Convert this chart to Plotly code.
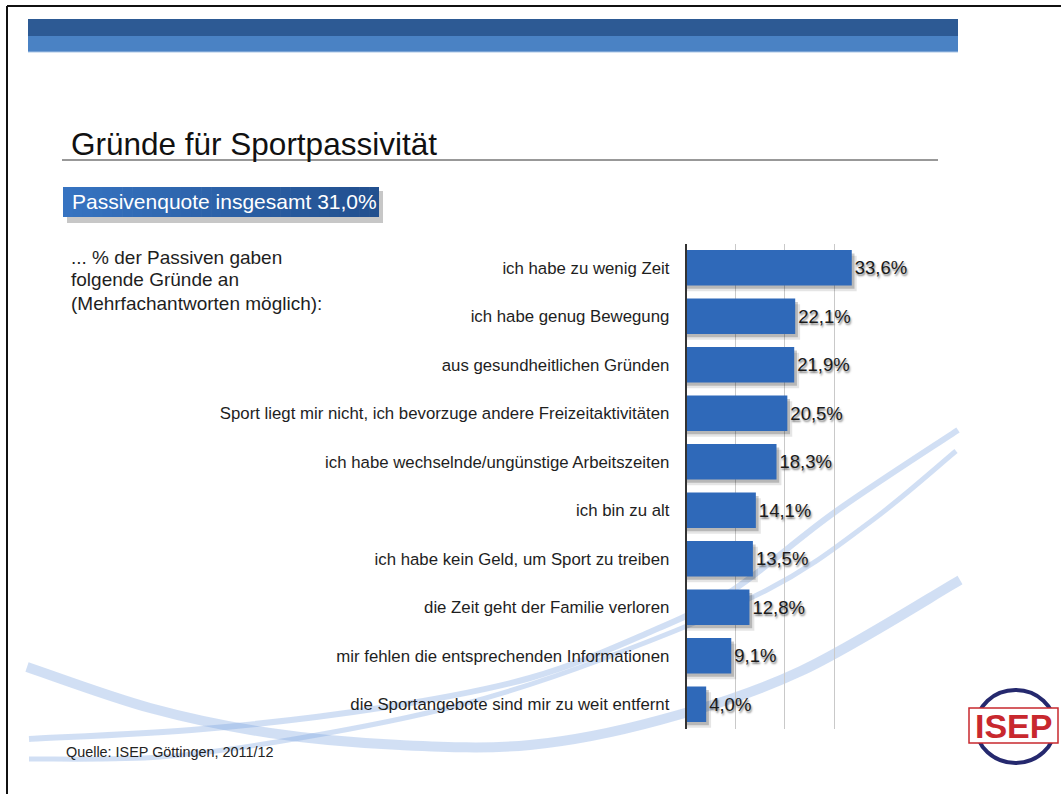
import plotly.graph_objects as go

# ---------------- data ----------------
categories = [
    "ich habe zu wenig Zeit",
    "ich habe genug Bewegung",
    "aus gesundheitlichen Gründen",
    "Sport liegt mir nicht, ich bevorzuge andere Freizeitaktivitäten",
    "ich habe wechselnde/ungünstige Arbeitszeiten",
    "ich bin zu alt",
    "ich habe kein Geld, um Sport zu treiben",
    "die Zeit geht der Familie verloren",
    "mir fehlen die entsprechenden Informationen",
    "die Sportangebote sind mir zu weit entfernt",
]
values = [33.6, 22.1, 21.9, 20.5, 18.3, 14.1, 13.5, 12.8, 9.1, 4.0]
grid_ticks = [0, 10, 20, 30, 40]

title_text = "Gründe für Sportpassivität"
banner_text = "Passivenquote insgesamt 31,0%"
intro_lines = ["... % der Passiven gaben", "folgende Gründe an", "(Mehrfachantworten möglich):"]
source_text = "Quelle: ISEP Göttingen, 2011/12"

# ---------------- geometry helpers ----------------
W, H = 1061, 794
FONT = "Liberation Sans, Arial, Helvetica, sans-serif"


def px(x):
    return x / W


def py(y):
    return 1 - y / H


def smooth_path(points):
    """Catmull-Rom -> cubic bezier path in paper coordinates."""
    pts = [(px(x), py(y)) for x, y in points]
    d = f"M {pts[0][0]:.5f},{pts[0][1]:.5f}"
    n = len(pts)
    for i in range(n - 1):
        p0 = pts[i - 1] if i > 0 else pts[i]
        p1 = pts[i]
        p2 = pts[i + 1]
        p3 = pts[i + 2] if i + 2 < n else pts[i + 1]
        c1 = (p1[0] + (p2[0] - p0[0]) / 6, p1[1] + (p2[1] - p0[1]) / 6)
        c2 = (p2[0] - (p3[0] - p1[0]) / 6, p2[1] - (p3[1] - p1[1]) / 6)
        d += f" C {c1[0]:.5f},{c1[1]:.5f} {c2[0]:.5f},{c2[1]:.5f} {p2[0]:.5f},{p2[1]:.5f}"
    return d


def lerp_col(c1, c2, t):
    a = [int(c1[i:i + 2], 16) for i in (1, 3, 5)]
    b = [int(c2[i:i + 2], 16) for i in (1, 3, 5)]
    return "#" + "".join(f"{round(a[k] + (b[k] - a[k]) * t):02x}" for k in range(3))


BAR_W = 0.73
fig = go.Figure()

# soft shadows behind bars
fig.add_trace(go.Bar(
    y=categories, x=[v + 1.0 for v in values], orientation="h",
    width=BAR_W, offset=-BAR_W / 2 + 0.12,
    marker=dict(color="rgba(0,0,0,0.10)", line=dict(width=0)),
    hoverinfo="skip", showlegend=False,
))
fig.add_trace(go.Bar(
    y=categories, x=[v + 0.55 for v in values], orientation="h",
    width=BAR_W, offset=-BAR_W / 2 + 0.07,
    marker=dict(color="rgba(0,0,0,0.20)", line=dict(width=0)),
    hoverinfo="skip", showlegend=False,
))
# main bars
fig.add_trace(go.Bar(
    y=categories, x=values, orientation="h",
    width=BAR_W, offset=-BAR_W / 2,
    marker=dict(color="#2f69b9", line=dict(width=0)),
    texttemplate="%{x:.1f}%", textposition="outside", constraintext="none",
    cliponaxis=False,
    textfont=dict(family=FONT, size=18.5, color="#1a1a1a",
                  shadow="1px 2px 2px rgba(0,0,0,0.5)"),
    showlegend=False,
))

shapes = []
# frame lines
shapes.append(dict(type="line", xref="paper", yref="paper", x0=px(7), x1=1, y0=py(6), y1=py(6),
                   line=dict(color="#111", width=2), layer="above"))
shapes.append(dict(type="line", xref="paper", yref="paper", x0=px(7), x1=px(7), y0=py(6), y1=0,
                   line=dict(color="#111", width=2), layer="above"))
# header bands
shapes.append(dict(type="rect", xref="paper", yref="paper", x0=px(28), x1=px(958), y0=py(36), y1=py(19),
                   fillcolor="#2d5a94", line=dict(width=0), layer="below"))
shapes.append(dict(type="rect", xref="paper", yref="paper", x0=px(28), x1=px(958), y0=py(52), y1=py(36),
                   fillcolor="#4a82c4", line=dict(width=0), layer="below"))
shapes.append(dict(type="line", xref="paper", yref="paper", x0=px(28), x1=px(958), y0=py(52), y1=py(52),
                   line=dict(color="#a9c5e6", width=1), layer="below"))
# title underline
shapes.append(dict(type="line", xref="paper", yref="paper", x0=px(62), x1=px(938), y0=py(160), y1=py(160),
                   line=dict(color="#333", width=1), layer="below"))
# background swooshes
swoosh_col = "rgba(120,162,222,0.34)"
shapes.append(dict(type="path", xref="paper", yref="paper", layer="below",
                   path=smooth_path([(27, 667), (150, 708), (270, 733), (400, 745), (530, 745),
                                     (660, 720), (801, 671), (960, 580)]),
                   line=dict(color=swoosh_col, width=10)))
shapes.append(dict(type="path", xref="paper", yref="paper", layer="below",
                   path=smooth_path([(29, 739), (203, 729), (380, 708), (530, 678), (650, 632),
                                     (733, 590), (835, 512), (958, 430)]),
                   line=dict(color=swoosh_col, width=6)))
shapes.append(dict(type="path", xref="paper", yref="paper", layer="below",
                   path=smooth_path([(29, 759), (160, 757), (300, 738), (460, 705), (600, 660),
                                     (767, 590), (870, 522), (956, 451)]),
                   line=dict(color=swoosh_col, width=5)))
# banner box with shadow and horizontal gradient
shapes.append(dict(type="rect", xref="paper", yref="paper", x0=px(67), x1=px(383), y0=py(223), y1=py(191),
                   fillcolor="rgba(0,0,0,0.22)", line=dict(width=0), layer="below"))
box_x0, box_x1, strips = 63, 379, 32
for k in range(strips):
    xa = box_x0 + (box_x1 - box_x0) * k / strips
    xb = box_x0 + (box_x1 - box_x0) * (k + 1) / strips + 0.6
    shapes.append(dict(type="rect", xref="paper", yref="paper", x0=px(xa), x1=px(min(xb, box_x1)),
                       y0=py(217), y1=py(187),
                       fillcolor=lerp_col("#3673c1", "#22508f", k / (strips - 1)),
                       line=dict(width=0), layer="below"))
# ISEP logo
shapes.append(dict(type="circle", xref="paper", yref="paper", x0=px(976), x1=px(1055), y0=py(763), y1=py(690),
                   fillcolor="white", line=dict(color="#25296e", width=4), layer="above"))
shapes.append(dict(type="rect", xref="paper", yref="paper", x0=px(969), x1=px(1058), y0=py(743), y1=py(708),
                   fillcolor="white", line=dict(color="#c8282e", width=1.5), layer="above"))

annotations = []
annotations.append(dict(xref="paper", yref="paper", x=px(69), y=py(144), xanchor="left", yanchor="middle",
                        text=title_text, showarrow=False,
                        font=dict(family=FONT, size=31.5, color="#111")))
annotations.append(dict(xref="paper", yref="paper", x=px(70), y=py(202), xanchor="left", yanchor="middle",
                        text=banner_text, showarrow=False,
                        font=dict(family=FONT, size=21, color="white")))
for i, line in enumerate(intro_lines):
    annotations.append(dict(xref="paper", yref="paper", x=px(69), y=py(257 + 23 * i),
                            xanchor="left", yanchor="middle", text=line, showarrow=False,
                            font=dict(family=FONT, size=19, color="#1e1e1e")))
annotations.append(dict(xref="paper", yref="paper", x=px(64), y=py(752), xanchor="left", yanchor="middle",
                        text=source_text, showarrow=False,
                        font=dict(family=FONT, size=14.4, color="#222")))
annotations.append(dict(xref="paper", yref="paper", x=px(1013), y=py(726), xanchor="center", yanchor="middle",
                        text="<b>ISEP</b>", showarrow=False,
                        font=dict(family="Liberation Sans Narrow, Arial Narrow, " + FONT, size=34, color="#c8282e")))

fig.update_layout(
    width=W, height=H,
    margin=dict(l=0, r=0, t=0, b=0),
    paper_bgcolor="white", plot_bgcolor="rgba(0,0,0,0)",
    barmode="overlay", bargap=0.27,
    separators=",.",
    showlegend=False,
    shapes=shapes, annotations=annotations,
    xaxis=dict(domain=[px(686.5), px(883.5)], range=[0, 40.05], tickvals=grid_ticks,
               showgrid=True, gridcolor="#c9c9c9", gridwidth=1, showticklabels=False,
               zeroline=False, showline=False, ticks="", fixedrange=True),
    yaxis=dict(domain=[py(728.5), py(243.5)], autorange="reversed", categoryorder="array",
               categoryarray=categories, showgrid=False, zeroline=False,
               showline=True, linecolor="#333", linewidth=1.5, ticks="",
               ticklabelstandoff=12,
               tickfont=dict(family=FONT, size=16.8, color="#1e1e1e")),
    font=dict(family=FONT),
)

fig.write_html("out.html", config={"displayModeBar": False},
               post_script="document.body.style.margin='0';document.body.style.overflow='hidden';")
